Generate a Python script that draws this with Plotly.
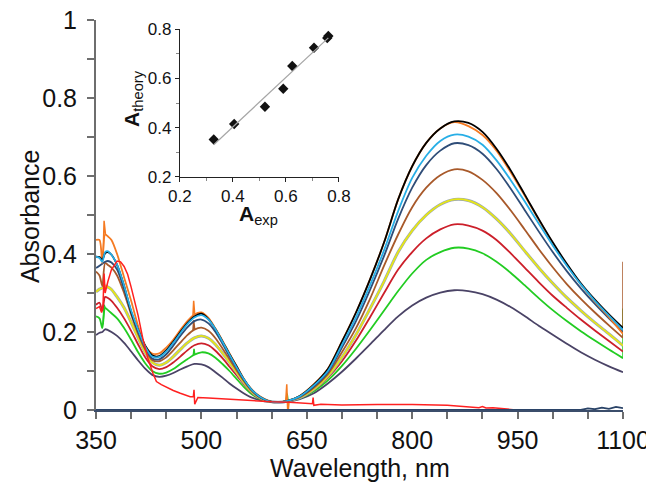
import numpy as np
import plotly.graph_objects as go

# ---------------- data ----------------
wl = [350, 355, 359, 363, 367, 372, 380, 390, 400, 410, 420, 430, 440, 450, 460, 470, 480, 490,
      500, 510, 520, 530, 540, 550, 560, 570, 580, 590, 600, 610, 620, 640, 660, 680, 700, 720,
      740, 760, 780, 800, 820, 840, 860, 880, 900, 920, 940, 960, 980, 1000, 1020, 1040, 1060,
      1080, 1100]

black = [0.393, 0.392, 0.385, 0.402, 0.405, 0.398, 0.372, 0.318, 0.252, 0.205, 0.165, 0.14, 0.138,
         0.153, 0.175, 0.2, 0.223, 0.24, 0.247, 0.233, 0.207, 0.176, 0.143, 0.112, 0.08, 0.055,
         0.038, 0.027, 0.021, 0.02, 0.022, 0.036, 0.065, 0.105, 0.175, 0.25, 0.335, 0.43, 0.54,
         0.625, 0.685, 0.722, 0.74, 0.736, 0.713, 0.67, 0.615, 0.553, 0.49, 0.43, 0.375, 0.325,
         0.283, 0.245, 0.21]
orange = [0.436, 0.436, 0.377, 0.45, 0.445, 0.436, 0.4, 0.34, 0.28, 0.215, 0.165, 0.145, 0.145,
          0.16, 0.18, 0.205, 0.228, 0.245, 0.25, 0.236, 0.209, 0.178, 0.145, 0.113, 0.081, 0.056,
          0.039, 0.028, 0.021, 0.02, 0.022, 0.036, 0.066, 0.106, 0.176, 0.25, 0.335, 0.43, 0.54,
          0.625, 0.685, 0.722, 0.738, 0.728, 0.705, 0.665, 0.61, 0.55, 0.488, 0.428, 0.372, 0.322,
          0.278, 0.238, 0.195]
light_blue = [0.393, 0.39, 0.38, 0.405, 0.407, 0.398, 0.373, 0.318, 0.255, 0.205, 0.163, 0.137,
              0.136, 0.15, 0.172, 0.197, 0.22, 0.237, 0.243, 0.232, 0.207, 0.175, 0.142, 0.11,
              0.08, 0.055, 0.038, 0.027, 0.021, 0.02, 0.022, 0.035, 0.063, 0.1, 0.167, 0.238,
              0.32, 0.41, 0.51, 0.595, 0.652, 0.69, 0.706, 0.701, 0.68, 0.64, 0.59, 0.535, 0.478,
              0.422, 0.37, 0.322, 0.28, 0.242, 0.205]
navy = [0.364, 0.37, 0.375, 0.38, 0.382, 0.378, 0.36, 0.31, 0.25, 0.2, 0.16, 0.132, 0.13, 0.143,
        0.165, 0.19, 0.212, 0.228, 0.232, 0.222, 0.2, 0.17, 0.138, 0.108, 0.078, 0.054, 0.037,
        0.027, 0.021, 0.02, 0.022, 0.034, 0.06, 0.097, 0.16, 0.228, 0.308, 0.395, 0.49, 0.57,
        0.628, 0.665, 0.684, 0.679, 0.657, 0.618, 0.568, 0.513, 0.458, 0.405, 0.356, 0.312,
        0.272, 0.235, 0.2]
brown = [0.355, 0.345, 0.318, 0.377, 0.372, 0.365, 0.345, 0.3, 0.245, 0.195, 0.155, 0.128, 0.125,
         0.135, 0.153, 0.173, 0.192, 0.206, 0.211, 0.203, 0.184, 0.158, 0.13, 0.102, 0.075, 0.052,
         0.036, 0.026, 0.021, 0.02, 0.022, 0.033, 0.057, 0.092, 0.148, 0.21, 0.285, 0.37, 0.45,
         0.52, 0.57, 0.602, 0.617, 0.612, 0.59, 0.556, 0.512, 0.463, 0.413, 0.366, 0.323, 0.285,
         0.25, 0.217, 0.185]
yellow = [0.303, 0.31, 0.313, 0.318, 0.315, 0.309, 0.29, 0.262, 0.225, 0.185, 0.148, 0.122, 0.115,
          0.122, 0.137, 0.155, 0.172, 0.185, 0.19, 0.184, 0.168, 0.146, 0.122, 0.097, 0.072, 0.05,
          0.035, 0.026, 0.021, 0.02, 0.022, 0.032, 0.054, 0.087, 0.135, 0.193, 0.26, 0.33, 0.405,
          0.46, 0.5, 0.527, 0.54, 0.537, 0.52, 0.49, 0.452, 0.408, 0.365, 0.325, 0.288, 0.255,
          0.224, 0.195, 0.165]
dark_red = [0.27, 0.275, 0.255, 0.29, 0.287, 0.28, 0.262, 0.235, 0.203, 0.168, 0.135, 0.112, 0.105,
            0.11, 0.122, 0.137, 0.153, 0.166, 0.171, 0.166, 0.152, 0.133, 0.111, 0.089, 0.067,
            0.047, 0.033, 0.025, 0.02, 0.02, 0.022, 0.031, 0.052, 0.083, 0.125, 0.178, 0.238, 0.3,
            0.36, 0.405, 0.44, 0.463, 0.476, 0.473, 0.46, 0.436, 0.402, 0.365, 0.328, 0.293, 0.262,
            0.232, 0.204, 0.177, 0.15]
green = [0.24, 0.235, 0.21, 0.262, 0.256, 0.248, 0.235, 0.21, 0.18, 0.148, 0.12, 0.1, 0.093, 0.096,
         0.105, 0.118, 0.13, 0.142, 0.148, 0.145, 0.134, 0.118, 0.1, 0.08, 0.06, 0.043, 0.031,
         0.024, 0.02, 0.02, 0.022, 0.03, 0.048, 0.076, 0.113, 0.157, 0.205, 0.255, 0.305, 0.35,
         0.385, 0.405, 0.416, 0.414, 0.402, 0.38, 0.352, 0.32, 0.287, 0.256, 0.228, 0.202, 0.178,
         0.155, 0.133]
purple = [0.192, 0.198, 0.2, 0.207, 0.205, 0.2, 0.19, 0.172, 0.15, 0.127, 0.106, 0.09, 0.085,
          0.088, 0.095, 0.104, 0.112, 0.118, 0.117, 0.11, 0.097, 0.083, 0.068, 0.055, 0.043,
          0.033, 0.027, 0.022, 0.02, 0.019, 0.02, 0.028, 0.043, 0.068, 0.098, 0.132, 0.168,
          0.205, 0.24, 0.268, 0.288, 0.301, 0.307, 0.305, 0.297, 0.283, 0.264, 0.241, 0.216,
          0.193, 0.17, 0.148, 0.129, 0.112, 0.097]

# narrow noise spikes drawn on top of the smooth spectra
orange_spike1_wl = [360, 361.5, 363.5]
orange_spike1_a = [0.39, 0.485, 0.45]
orange_spike2_wl = [488, 489, 490.5]
orange_spike2_a = [0.243, 0.28, 0.245]
orange_spike3_wl = [620, 621.5, 623, 625]
orange_spike3_a = [0.022, 0.066, -0.012, 0.025]
brown_spike_wl = [488, 489, 490.5]
brown_spike_a = [0.204, 0.23, 0.206]
brown_end_wl = [1100, 1100]
brown_end_a = [0.185, 0.38]
green_spike1_wl = [360, 361.5, 363]
green_spike1_a = [0.22, 0.27, 0.262]
green_spike2_wl = [488.5, 489.5, 490.5]
green_spike2_a = [0.14, 0.157, 0.143]
green_spike3_wl = [620.5, 622, 623.5]
green_spike3_a = [0.022, 0.042, 0.022]
green_end_wl = [1100, 1100]
green_end_a = [0.133, 0.26]

# reference spectrum (bright red)
red_wl = [350, 355, 358, 360, 361.5, 363, 367, 372, 380, 385, 390, 395, 400, 405, 410, 417, 424,
          431, 436, 443, 450, 460, 470, 484, 488.5, 489.5, 490.5, 495, 510, 530, 550, 575, 600,
          625, 650, 658, 659, 660, 670, 700, 750, 800, 850, 880, 895, 900, 905, 915, 930, 950,
          965, 978]
red_a = [0.26, 0.265, 0.25, 0.27, 0.35, 0.3, 0.33, 0.36, 0.382, 0.38, 0.368, 0.348, 0.315, 0.278,
         0.242, 0.18, 0.132, 0.094, 0.073, 0.065, 0.058, 0.05, 0.043, 0.034, 0.034, 0.052, 0.015,
         0.032, 0.031, 0.029, 0.027, 0.023, 0.021, 0.02, 0.016, 0.016, 0.032, 0.012, 0.015, 0.013,
         0.014, 0.014, 0.012, 0.008, 0.006, 0.009, 0.005, 0.006, 0.003, 0.0, -0.003, -0.004]

# baseline
base_wl = [350, 1040, 1050, 1060, 1070, 1080, 1090, 1100]
base_a = [0, 0, 0.004, 0.002, 0.006, 0.003, 0.008, 0.005]

# inset
a_exp = [0.328, 0.405, 0.521, 0.590, 0.624, 0.706, 0.756, 0.760]
a_theory = [0.352, 0.415, 0.485, 0.558, 0.651, 0.725, 0.765, 0.773]

x_ticks = [350, 500, 650, 800, 950, 1100]

FONT = "Liberation Sans, Arial, sans-serif"
AX = "#6e6e6e"

C_PURPLE = "#4a4366"
C_GREEN = "#22cc22"
C_DRED = "#cc1f2a"
C_GRAY = "#9aa6b8"
C_YELLOW = "#e6e617"
C_BROWN = "#a8592a"
C_NAVY = "#2f4d78"
C_ORANGE = "#f57a22"
C_BLACK = "#000000"
C_LBLUE = "#27aee6"
C_RED = "#ff2020"
C_BASE = "#2b4468"

fig = go.Figure()


def spec(x, y, color, width=1.8, shape="spline"):
    fig.add_trace(go.Scatter(x=x, y=y, mode="lines",
                             line=dict(color=color, width=width, shape=shape, smoothing=0.8),
                             hoverinfo="skip", xaxis="x", yaxis="y"))


spec(wl, purple, C_PURPLE)
spec(wl, green, C_GREEN)
spec(green_spike1_wl, green_spike1_a, C_GREEN, width=1.5, shape="linear")
spec(green_spike2_wl, green_spike2_a, C_GREEN, width=1.5, shape="linear")
spec(green_spike3_wl, green_spike3_a, C_GREEN, width=1.5, shape="linear")
spec(green_end_wl, green_end_a, C_GREEN, width=1.5, shape="linear")
spec(wl, dark_red, C_DRED)
spec(wl, yellow, C_GRAY, width=3.0)
spec(wl, yellow, C_YELLOW, width=1.8)
spec(wl, brown, C_BROWN)
spec(brown_spike_wl, brown_spike_a, C_BROWN, width=1.5, shape="linear")
spec(brown_end_wl, brown_end_a, C_BROWN, width=1.5, shape="linear")
spec(wl, navy, C_NAVY)
spec(wl, orange, C_ORANGE)
spec(orange_spike1_wl, orange_spike1_a, C_ORANGE, width=1.5, shape="linear")
spec(orange_spike2_wl, orange_spike2_a, C_ORANGE, width=1.5, shape="linear")
spec(orange_spike3_wl, orange_spike3_a, C_ORANGE, width=1.5, shape="linear")
spec(wl, black, C_BLACK)
spec(wl, light_blue, C_LBLUE)
spec(red_wl, red_a, C_RED, width=1.5, shape="linear")
spec(base_wl, base_a, C_BASE, width=1.8, shape="linear")

# inset
fig.add_trace(go.Scatter(x=a_exp, y=a_theory, mode="markers",
                         marker=dict(symbol="diamond", size=8, color="#111111"),
                         hoverinfo="skip", xaxis="x2", yaxis="y2"))
k, b = np.polyfit(a_exp, a_theory, 1)
fit_x = [min(a_exp), max(a_exp)]
fit_y = [k * v + b for v in fit_x]
fig.add_trace(go.Scatter(x=fit_x, y=fit_y, mode="lines",
                         line=dict(color="#a6a6a6", width=1.2),
                         hoverinfo="skip", xaxis="x2", yaxis="y2"))

main_axis = dict(showgrid=False, zeroline=False, showline=True, linecolor=AX, linewidth=2,
                 ticks="outside", ticklen=7, tickwidth=2, tickcolor=AX, automargin=False,
                 ticklabeloverflow="allow",
                 tickfont=dict(family=FONT, size=25, color="#111111"))
inset_axis = dict(showgrid=False, zeroline=False, showline=True, linecolor="#222222", linewidth=1,
                  ticks="outside", ticklen=4, tickwidth=1, tickcolor="#222222", automargin=False,
                  range=[0.2, 0.8], tickvals=[0.2, 0.4, 0.6, 0.8], ticklabeloverflow="allow",
                  minor=dict(tickvals=[0.3, 0.5, 0.7], ticks="outside", ticklen=3,
                             tickcolor="#888888", tickwidth=1),
                  tickfont=dict(family=FONT, size=17, color="#111111"))

# the page adds an 8 px body margin, so the figure is made 8 px smaller and shifted
fig.update_layout(
    width=646, height=475,
    margin=dict(l=88, r=31, t=12, b=73, autoexpand=False),
    paper_bgcolor="white", plot_bgcolor="rgba(0,0,0,0)",
    showlegend=False,
    font=dict(family=FONT, color="#111111"),
    xaxis=dict(main_axis, range=[350, 1100], tickvals=x_ticks, linecolor="#3b4d6b",
               minor=dict(tick0=350, dtick=50, ticks="outside", ticklen=7, tickwidth=1.5,
                          tickcolor=AX)),
    yaxis=dict(main_axis, range=[0, 1], tickvals=[0, 0.2, 0.4, 0.6, 0.8, 1],
               ticktext=["0", "0.2", "0.4", "0.6", "0.8", "1"], ticklabelstandoff=5,
               minor=dict(tick0=0, dtick=0.1, ticks="outside", ticklen=7, tickwidth=1.5,
                          tickcolor=AX)),
    xaxis2=dict(inset_axis, domain=[0.159, 0.461], anchor="y2"),
    yaxis2=dict(inset_axis, domain=[0.598, 0.976], anchor="x2"),
    annotations=[
        dict(text="Absorbance", xref="paper", yref="paper", x=-0.125, y=0.495,
             xanchor="center", yanchor="middle",
             textangle=-90, showarrow=False, font=dict(family=FONT, size=25)),
        dict(text="Wavelength, nm", xref="paper", yref="paper", x=0.5, y=-0.149,
             xanchor="center", yanchor="middle",
             showarrow=False, font=dict(family=FONT, size=25)),
        dict(text="<b>A</b><sub>exp</sub>", xref="paper", yref="paper", x=0.309, y=0.5,
             xanchor="center", yanchor="middle",
             showarrow=False, font=dict(family=FONT, size=21)),
        dict(text="<b>A</b><sub>theory</sub>", xref="paper", yref="paper", x=0.07, y=0.8,
             xanchor="center", yanchor="middle",
             textangle=-90, showarrow=False, font=dict(family=FONT, size=21)),
    ],
)

fig.write_html("out.html")
